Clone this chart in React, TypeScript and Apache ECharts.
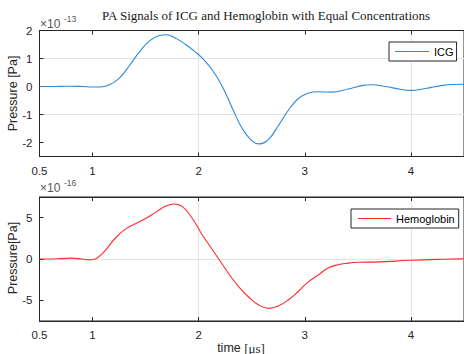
import React, { useEffect, useRef } from "react";
import * as echarts from "echarts";

const titleText = "PA Signals of ICG and Hemoglobin with Equal Concentrations";
const xTickLabels = [0.5, 1, 2, 3, 4];
const xGridTicks = [1, 2, 3, 4];
const topYTicks = [-2, -1, 0, 1, 2];
const bottomYTicks = [-5, 0, 5];

const icgT = [0.5, 0.6, 0.7, 0.8, 0.9, 1.0, 1.07, 1.16, 1.25, 1.35, 1.44, 1.54, 1.63, 1.69, 1.79, 1.88, 1.97, 2.05, 2.13, 2.22, 2.32, 2.41, 2.5, 2.57, 2.66, 2.75, 2.85, 2.94, 3.03, 3.13, 3.25, 3.41, 3.55, 3.63, 3.76, 3.9, 4.0, 4.1, 4.19, 4.3, 4.38, 4.5];
const icgV = [0, 0, 0.005, 0.01, 0, -0.02, -0.02, 0.06, 0.29, 0.76, 1.23, 1.64, 1.82, 1.85, 1.71, 1.49, 1.23, 0.95, 0.58, 0.02, -0.8, -1.5, -1.93, -2.05, -1.88, -1.4, -0.82, -0.43, -0.24, -0.19, -0.2, -0.09, 0.04, 0.06, 0.0, -0.1, -0.14, -0.1, -0.03, 0.04, 0.07, 0.08];

const hbT = [0.5, 0.6, 0.7, 0.8, 0.9, 0.97, 1.02, 1.07, 1.13, 1.22, 1.32, 1.41, 1.5, 1.6, 1.69, 1.77, 1.85, 1.94, 2.03, 2.12, 2.21, 2.29, 2.38, 2.47, 2.57, 2.66, 2.75, 2.85, 2.94, 3.03, 3.13, 3.22, 3.31, 3.41, 3.5, 3.69, 4.0, 4.25, 4.5];
const hbV = [0, 0, 0.05, 0.1, 0.0, -0.1, -0.02, 0.4, 1.2, 2.6, 3.7, 4.3, 4.9, 5.7, 6.4, 6.65, 6.3, 4.9, 3.0, 1.3, -0.4, -1.9, -3.4, -4.6, -5.6, -5.97, -5.7, -4.9, -3.9, -2.8, -1.9, -1.1, -0.7, -0.5, -0.4, -0.35, -0.16, -0.05, 0.02];

const AX = "#262626";
const GRID = "#e3e3e3";
const SANS = "Liberation Sans, Arial, sans-serif";
const SERIF = "Liberation Serif, Times New Roman, serif";

export default function App() {
  const ref = useRef<HTMLDivElement>(null);
  useEffect(() => {
    if (!ref.current) return;
    const chart = echarts.init(ref.current, null, { renderer: "svg" });
    const grids = [
      { left: 39.5, top: 30.5, width: 427, height: 126 },
      { left: 39.5, top: 197, width: 427, height: 124 },
    ];
    const mkX = (gi: number, pos: "bottom" | "top", labels: boolean) => ({
      type: "value",
      gridIndex: gi,
      position: pos,
      min: 0.5,
      max: 4.5,
      interval: 0.5,
      axisLine: { show: true, onZero: false, lineStyle: { color: AX, width: 1 } },
      axisTick: { show: true, inside: true, length: 4, customValues: xGridTicks, lineStyle: { color: AX } },
      axisLabel: {
        show: labels,
        customValues: xTickLabels,
        color: AX,
        fontFamily: SANS,
        fontSize: 11.5,
        margin: 8,
        formatter: (v: number) => String(v),
      },
      splitLine: {
        show: labels,
        lineStyle: { color: ["rgba(0,0,0,0)", GRID], width: 1 },
      },
    });
    const mkY = (gi: number, min: number, max: number, interval: number, ticks: number[]) => ({
      type: "value",
      gridIndex: gi,
      min,
      max,
      interval,
      axisLine: { show: true, lineStyle: { color: AX, width: 1 } },
      axisTick: { show: true, inside: true, length: 4, customValues: ticks, lineStyle: { color: AX } },
      axisLabel: {
        customValues: ticks,
        color: AX,
        fontFamily: SANS,
        fontSize: 11.5,
        margin: 7,
        formatter: (v: number) => String(v),
      },
      splitLine: { show: true, lineStyle: { color: ["rgba(0,0,0,0)", GRID], width: 1 } },
    });
    const option: any = {
      animation: false,
      backgroundColor: "#ffffff",
      title: {
        text: titleText,
        left: 102,
        top: 9,
        padding: 0,
        textStyle: { fontFamily: SERIF, fontSize: 13, fontWeight: "normal", color: "#1a1a1a" },
      },
      grid: grids.map((g) => ({ ...g, show: true, borderColor: AX, borderWidth: 1, backgroundColor: "transparent" })),
      xAxis: [mkX(0, "bottom", true), mkX(1, "bottom", true), mkX(0, "top", false), mkX(1, "top", false)],
      yAxis: [mkY(0, -2.5, 2, 0.5, topYTicks), mkY(1, -7.5, 7.5, 2.5, bottomYTicks)],
      legend: [
        {
          data: ["ICG"],
          left: 389,
          top: 42,
          orient: "horizontal",
          icon: "rect",
          itemWidth: 34,
          itemHeight: 1.2,
          itemGap: 5,
          padding: [3, 3, 3, 6],
          borderColor: AX,
          borderWidth: 1,
          backgroundColor: "#ffffff",
          textStyle: { fontFamily: SANS, fontSize: 11, color: "#000", lineHeight: 13 },
        },
        {
          data: ["Hemoglobin"],
          left: 351,
          top: 209,
          orient: "horizontal",
          icon: "rect",
          itemWidth: 33,
          itemHeight: 1.2,
          itemGap: 5,
          padding: [3, 4, 3, 7],
          borderColor: AX,
          borderWidth: 1,
          backgroundColor: "#ffffff",
          textStyle: { fontFamily: SANS, fontSize: 11, color: "#000", lineHeight: 13 },
        },
      ],
      series: [
        {
          name: "ICG",
          type: "line",
          xAxisIndex: 0,
          yAxisIndex: 0,
          data: icgT.map((t, i) => [t, icgV[i]]),
          smooth: 0.45,
          showSymbol: false,
          lineStyle: { color: "#2a8ad6", width: 1.1 },
          itemStyle: { color: "#2a8ad6" },
        },
        {
          name: "Hemoglobin",
          type: "line",
          xAxisIndex: 1,
          yAxisIndex: 1,
          data: hbT.map((t, i) => [t, hbV[i]]),
          smooth: 0.45,
          showSymbol: false,
          lineStyle: { color: "#ff2a2a", width: 1.1 },
          itemStyle: { color: "#ff2a2a" },
        },
      ],
      graphic: [
        { type: "text", x: 40, y: 24, style: { text: "×10", fontFamily: SANS, fontSize: 12, fill: "#555", textVerticalAlign: "middle" } },
        { type: "text", x: 64, y: 18.5, style: { text: "-13", fontFamily: SANS, fontSize: 8.5, fill: "#555", textVerticalAlign: "middle" } },
        { type: "text", x: 40, y: 188, style: { text: "×10", fontFamily: SANS, fontSize: 12, fill: "#555", textVerticalAlign: "middle" } },
        { type: "text", x: 64, y: 182.5, style: { text: "-16", fontFamily: SANS, fontSize: 8.5, fill: "#555", textVerticalAlign: "middle" } },
        {
          type: "text",
          x: 13,
          y: 93.5,
          rotation: Math.PI / 2,
          style: { text: "Pressure [Pa]", fontFamily: SANS, fontSize: 12.5, fill: AX, textAlign: "center", textVerticalAlign: "middle" },
        },
        {
          type: "text",
          x: 13,
          y: 258,
          rotation: Math.PI / 2,
          style: { text: "Pressure[Pa]", fontFamily: SANS, fontSize: 12.5, fill: AX, textAlign: "center", textVerticalAlign: "middle" },
        },
        {
          type: "text",
          x: 241,
          y: 348,
          style: {
            text: "{a|time }{b|[μs]}",
            textAlign: "center",
            textVerticalAlign: "middle",
            rich: {
              a: { fontFamily: SANS, fontSize: 12.5, fill: AX },
              b: { fontFamily: SERIF, fontSize: 13, fill: AX },
            },
          },
        },
      ],
    };
    chart.setOption(option);
    return () => chart.dispose();
  }, []);
  return <div ref={ref} style={{ position: "fixed", left: 0, top: 0, width: 464, height: 354 }} />;
}
